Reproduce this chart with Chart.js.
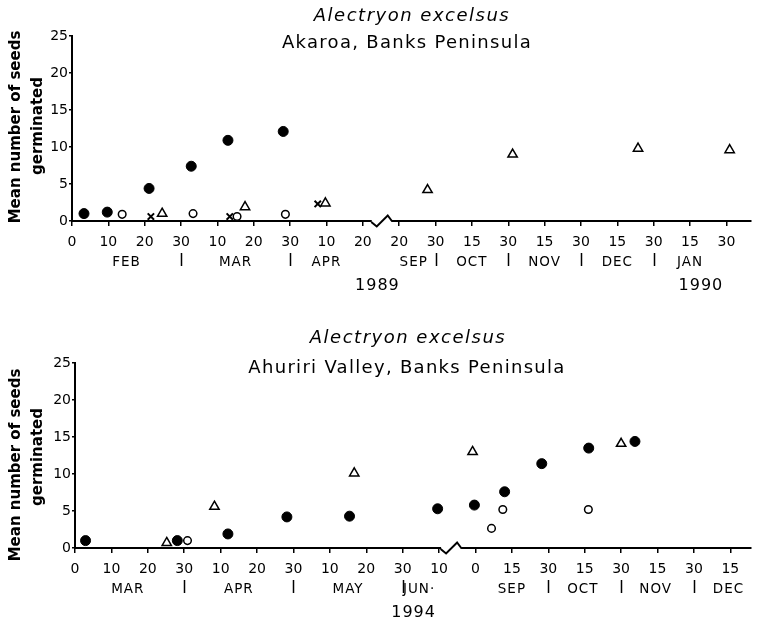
<!DOCTYPE html>
<html>
<head>
<meta charset="utf-8">
<script src="https://cdn.jsdelivr.net/npm/chart.js@4.4.1/dist/chart.umd.min.js"></script>
<style>
  body { margin: 0; background: #fff; }
  #wrap { position: relative; width: 758px; height: 624px; }
  canvas { position: absolute; left: 0; }
</style>
</head>
<body>
<div id="wrap">
  <canvas id="akaroa" width="758" height="300" style="top:0px"></canvas>
  <canvas id="ahuriri" width="758" height="324" style="top:300px"></canvas>
</div>
<script>
// x values are read as positions along the drawn time axis (one unit = one tick mark)

// Akaroa 1989-90
const akaroaTicks = ["0", "10", "20", "30", "10", "20", "30", "10", "20", "20", "30", "15", "30", "15", "30", "15", "30", "15", "30"];
const akaroaMonths = ["FEB", "MAR", "APR", "SEP", "OCT", "NOV", "DEC", "JAN"];
const akaroaMonthAt = [1.5, 4.5, 7, 9.4, 11, 13, 15, 17];
const akaroaDividers = [3, 6, 10, 12, 14, 16];
const akaroaYears = ["1989", "1990"];
const akaroaYearAt = [8.4, 17.3];
const akaroaFilled = [[0.33, 1.0], [0.97, 1.2], [2.12, 4.4], [3.28, 7.4], [4.29, 10.9], [5.81, 12.1]];
const akaroaOpen = [[1.38, 0.9], [3.33, 1.0], [4.54, 0.6], [5.87, 0.9]];
const akaroaCross = [[2.17, 0.6], [4.34, 0.6], [6.76, 2.3]];
const akaroaTriangle = [[2.48, 1.0], [4.76, 1.9], [6.97, 2.4], [9.78, 4.2], [12.12, 9.0], [15.57, 9.8], [18.09, 9.6]];

// Ahuriri Valley 1994
const ahuririTicks = ["0", "10", "20", "30", "10", "20", "30", "10", "20", "30", "10", "0", "15", "30", "15", "30", "15", "30", "15"];
const ahuririMonths = ["MAR", "APR", "MAY", "JUN\u00b7", "SEP", "OCT", "NOV", "DEC"];
const ahuririMonthAt = [1.45, 4.5, 7.5, 9.45, 12, 13.95, 15.95, 17.95];
const ahuririDividers = [3, 6, 9, 13, 15, 17];
const ahuririYears = ["1994"];
const ahuririYearAt = [9.3];
const ahuririFilled = [[0.29, 1.0], [2.81, 1.0], [4.2, 1.9], [5.82, 4.2], [7.54, 4.3], [9.96, 5.3], [10.97, 5.8], [11.8, 7.6], [12.82, 11.4], [14.11, 13.5], [15.38, 14.4]];
const ahuririOpen = [[3.09, 1.0], [11.44, 2.65], [11.75, 5.2], [14.1, 5.2]];
const ahuririCross = [];
const ahuririTriangle = [[2.52, 0.7], [3.83, 5.6], [7.67, 10.1], [10.92, 13.0], [15.0, 14.1]];

const yTitle = ["Mean number of seeds", "germinated"];
const species = "Alectryon excelsus";

Chart.defaults.font.family = "'DejaVu Sans', sans-serif";
Chart.defaults.color = "#000";

const toPoints = (arr) => arr.map((p) => ({ x: p[0], y: p[1] }));

//draws titles, month row, years and the axis break
const panelText = {
    id: "panelText",
    afterDraw(chart, args, o) {
        const ctx = chart.ctx;
        const xs = chart.scales.x;
        const axisY = chart.chartArea.bottom;
        ctx.save();
        ctx.fillStyle = "#000";
        ctx.strokeStyle = "#000";
        ctx.textAlign = "center";
        ctx.textBaseline = "middle";

        ctx.font = "italic 18px 'DejaVu Sans'";
        ctx.letterSpacing = "1.5px";
        ctx.fillText(species, o.titleX, o.titleY);
        ctx.font = "18px 'DejaVu Sans'";
        ctx.letterSpacing = "1.3px";
        ctx.fillText(o.site, o.siteX, o.siteY);

        // y axis title, rotated
        ctx.font = "bold 15px 'DejaVu Sans'";
        ctx.letterSpacing = "0px";
        [[yTitle[0], 16, o.yTitleY[0]], [yTitle[1], 38, o.yTitleY[1]]].forEach(([t, x, y]) => {
            ctx.save();
            ctx.translate(x, y);
            ctx.rotate(-Math.PI / 2);
            ctx.fillText(t, 0, 0);
            ctx.restore();
        });

        ctx.font = "13.5px 'DejaVu Sans'";
        ctx.letterSpacing = "1px";
        o.months.forEach((m, i) => {
            ctx.fillText(m, xs.getPixelForValue(o.monthAt[i]), axisY + 41.5);
        });
        ctx.lineWidth = 1.5;
        o.dividers.forEach((d) => {
            const x = Math.round(xs.getPixelForValue(d)) + 0.5;
            ctx.beginPath();
            ctx.moveTo(x, axisY + 32);
            ctx.lineTo(x, axisY + 45);
            ctx.stroke();
        });

        ctx.font = "16px 'DejaVu Sans'";
        ctx.letterSpacing = "1px";
        o.years.forEach((y, i) => {
            ctx.fillText(y, xs.getPixelForValue(o.yearAt[i]), axisY + 64.5);
        });

        // break in the time axis
        const cx = xs.getPixelForValue(o.breakAt);
        ctx.fillStyle = "#fff";
        ctx.fillRect(cx - 10, axisY - 3, 20, 6);
        ctx.lineWidth = 2;
        ctx.beginPath();
        ctx.moveTo(cx - 10.5, axisY + 1);
        ctx.lineTo(cx - 5, axisY + 5.5);
        ctx.lineTo(cx + 6, axisY - 5.5);
        ctx.lineTo(cx + 10.5, axisY + 0.5);
        ctx.stroke();
        ctx.restore();
    },
};

function makePanel(id, p) {
    const ctx = document.getElementById(id).getContext("2d");
    new Chart(ctx, {
        type: "scatter",
        data: {
            datasets: [
                {
                    data: toPoints(p.filled),
                    pointStyle: "circle",
                    pointRadius: 5,
                    backgroundColor: "#000",
                    borderColor: "#000",
                    borderWidth: 1,
                },
                {
                    data: toPoints(p.open),
                    pointStyle: "circle",
                    pointRadius: 3.8,
                    backgroundColor: "#fff",
                    borderColor: "#000",
                    borderWidth: 1.5,
                },
                {
                    data: toPoints(p.cross),
                    pointStyle: "crossRot",
                    pointRadius: 4.5,
                    borderColor: "#000",
                    borderWidth: 2,
                },
                {
                    data: toPoints(p.triangle),
                    pointStyle: "triangle",
                    pointRadius: 5.4,
                    backgroundColor: "rgba(255,255,255,0)",
                    borderColor: "#000",
                    borderWidth: 1.5,
                },
            ],
        },
        options: {
            responsive: false,
            animation: false,
            clip: false,
            events: [],
            layout: { padding: { top: p.padTop, left: 0, right: 0, bottom: 0 } },
            plugins: {
                legend: { display: false },
                tooltip: { enabled: false },
                panelText: p.text,
            },
            scales: {
                x: {
                    type: "linear",
                    min: 0,
                    max: p.xMax,
                    afterFit(s) {
                        s.height = p.xAxisH;
                    },
                    afterBuildTicks(s) {
                        s.ticks = p.ticks.map((t, i) => ({ value: i }));
                    },
                    ticks: {
                        autoSkip: false,
                        maxRotation: 0,
                        padding: 8,
                        font: { size: 14 },
                        callback: (v, i) => p.ticks[i],
                    },
                    grid: { drawOnChartArea: false, tickLength: 5, color: "#000", lineWidth: 1.5 },
                    border: { color: "#000", width: 2 },
                },
                y: {
                    min: 0,
                    max: 25,
                    afterFit(s) {
                        s.width = p.yAxisW;
                    },
                    ticks: { stepSize: 5, padding: 1, font: { size: 14 } },
                    grid: { drawOnChartArea: false, tickLength: 3, color: "#000", lineWidth: 1.5 },
                    border: { color: "#000", width: 2 },
                },
            },
        },
        plugins: [panelText],
    });
}

makePanel("akaroa", {
    filled: akaroaFilled,
    open: akaroaOpen,
    cross: akaroaCross,
    triangle: akaroaTriangle,
    ticks: akaroaTicks,
    xMax: 18.68,
    padTop: 36,
    xAxisH: 79,
    yAxisW: 72,
    text: {
        site: "Akaroa, Banks Peninsula",
        titleX: 412, titleY: 16,
        siteX: 407, siteY: 43,
        yTitleY: [127, 126],
        months: akaroaMonths, monthAt: akaroaMonthAt,
        dividers: akaroaDividers,
        years: akaroaYears, yearAt: akaroaYearAt,
        breakAt: 8.52,
    },
});

makePanel("ahuriri", {
    filled: ahuririFilled,
    open: ahuririOpen,
    cross: ahuririCross,
    triangle: ahuririTriangle,
    ticks: ahuririTicks,
    xMax: 18.57,
    padTop: 63,
    xAxisH: 76,
    yAxisW: 75,
    text: {
        site: "Ahuriri Valley, Banks Peninsula",
        titleX: 408, titleY: 38,
        siteX: 407, siteY: 68,
        yTitleY: [165, 157],
        months: ahuririMonths, monthAt: ahuririMonthAt,
        dividers: ahuririDividers,
        years: ahuririYears, yearAt: ahuririYearAt,
        breakAt: 10.33,
    },
});
</script>
</body>
</html>
